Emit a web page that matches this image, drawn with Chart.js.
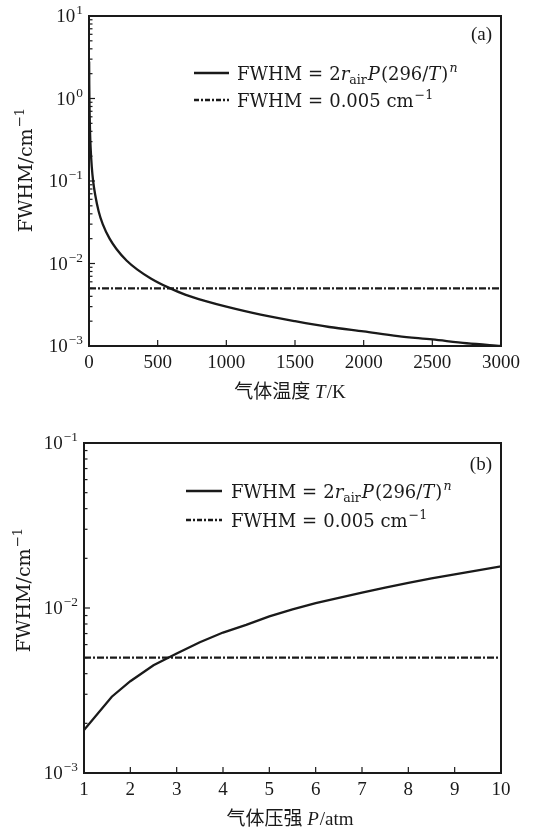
<!DOCTYPE html>
<html>
<head>
<meta charset="utf-8">
<script src="https://cdn.jsdelivr.net/npm/chart.js@4.4.1/dist/chart.umd.min.js"></script>
<style>
body { margin: 0; background: #fff; }
canvas { display: block; }
</style>
</head>
<body>
<canvas id="chartA" width="545" height="415"></canvas>
<canvas id="chartB" width="545" height="415"></canvas>
<script>
// (a) FWHM against gas temperature
const tempK = [1, 2, 3, 5, 8, 12, 20, 30, 45, 70, 100, 150, 200, 275, 350, 450, 580, 700, 850, 1000, 1250, 1500, 1750, 2000, 2250, 2500, 2750, 3000];
const fwhmTemp = [2.8, 1.45, 0.98, 0.6, 0.37, 0.25, 0.15, 0.1, 0.068, 0.043, 0.03, 0.02, 0.015, 0.0108, 0.0085, 0.0066, 0.0051, 0.0042, 0.0035, 0.003, 0.0024, 0.002, 0.0017, 0.0015, 0.00132, 0.0012, 0.00108, 0.001];
const tempTicks = [0, 500, 1000, 1500, 2000, 2500, 3000];

// (b) FWHM against gas pressure
const pressAtm = [1, 1.6, 2, 2.5, 3, 3.5, 4, 4.5, 5, 5.5, 6, 6.5, 7, 7.5, 8, 8.5, 9, 9.5, 10];
const fwhmPress = [0.00182, 0.0029, 0.0036, 0.0045, 0.0053, 0.0062, 0.0071, 0.0079, 0.0089, 0.0098, 0.0107, 0.0115, 0.0124, 0.0133, 0.0142, 0.0151, 0.016, 0.0169, 0.0179];
const pressTicks = [1, 2, 3, 4, 5, 6, 7, 8, 9, 10];

const fwhmConst = 0.005;
const decadesA = [-3, -2, -1, 0, 1];
const decadesB = [-3, -2, -1];

const INK = '#1a1a1a';
const FONT = '"Liberation Serif", "Noto Sans CJK SC"';
const WIDE = '"DejaVu Serif", "Liberation Serif"';

// text with italics, sub- and superscripts
function drawParts(ctx, parts, x, y, base, measureOnly, family) {
    let cx = x;
    parts.forEach(p => {
        const size = (p.sup || p.sub) ? base * 0.7 : base;
        ctx.font = (p.i ? 'italic ' : '') + size + 'px ' + (family || FONT);
        const dy = p.sup ? -base * 0.42 : p.sub ? base * 0.2 : 0;
        cx += p.pre || 0;
        if (!measureOnly) ctx.fillText(p.t, cx, y + dy);
        cx += ctx.measureText(p.t).width + (p.gap || 0);
    });
    return cx - x;
}

const legendSolid = [{t: 'FWHM'}, {t: '=', pre: 6, gap: 6}, {t: '2'}, {t: 'r', i: true}, {t: 'air', sub: true, gap: 1}, {t: 'P', i: true, gap: 1}, {t: '(296/'}, {t: 'T', i: true, gap: 1}, {t: ')'}, {t: 'n', i: true, sup: true, pre: 1}];
const legendDash = [{t: 'FWHM'}, {t: '=', pre: 6, gap: 6}, {t: '0.005 cm'}, {t: '\u22121', sup: true, pre: 1}];
const yTitle = [{t: 'FWHM/cm'}, {t: '\u22121', sup: true, pre: 1}];

const framePlugin = {
    id: 'frame',
    afterDraw(chart, args, o) {
        const ctx = chart.ctx;
        const a = chart.chartArea;
        const xs = chart.scales.x, ys = chart.scales.y;
        ctx.save();
        ctx.strokeStyle = INK;
        ctx.fillStyle = INK;

        // x ticks, inward
        ctx.lineWidth = 1.2;
        o.xTicks.forEach(v => {
            const px = xs.getPixelForValue(v);
            ctx.beginPath();
            ctx.moveTo(px, a.bottom);
            ctx.lineTo(px, a.bottom - 6);
            ctx.stroke();
        });
        // y ticks, major and minor, inward
        o.decades.forEach((e, k) => {
            const last = k === o.decades.length - 1;
            for (let m = 1; m <= (last ? 1 : 9); m++) {
                const py = ys.getPixelForValue(m * Math.pow(10, e));
                ctx.beginPath();
                ctx.moveTo(a.left, py);
                ctx.lineTo(a.left + (m === 1 ? 6 : 3.5), py);
                ctx.stroke();
            }
        });

        // frame
        ctx.lineWidth = 2;
        ctx.strokeRect(a.left, a.top, a.right - a.left, a.bottom - a.top);

        // x tick labels
        ctx.textBaseline = 'alphabetic';
        ctx.textAlign = 'center';
        ctx.font = '19px ' + FONT;
        o.xTicks.forEach(v => {
            ctx.fillText(String(v), xs.getPixelForValue(v), a.bottom + 22);
        });

        // y tick labels 10^e
        ctx.textAlign = 'left';
        o.decades.forEach(e => {
            const py = ys.getPixelForValue(Math.pow(10, e));
            const parts = [{t: '10', gap: 1}, {t: e < 0 ? '\u2212' + (-e) : String(e), sup: true}];
            const w = drawParts(ctx, parts, 0, 0, 19, true);
            drawParts(ctx, parts, a.left - 6 - w, py + 6, 19);
        });

        // x title
        const wx = drawParts(ctx, o.xTitle, 0, 0, 19, true);
        drawParts(ctx, o.xTitle, o.xTitleX - wx / 2, a.bottom + 52, 19);

        // y title, rotated
        ctx.save();
        ctx.translate(o.yTitleX, o.yTitleY);
        ctx.rotate(-Math.PI / 2);
        const wy = drawParts(ctx, yTitle, 0, 0, 19, true, WIDE);
        drawParts(ctx, yTitle, -wy / 2, 6, 19, false, WIDE);
        ctx.restore();

        // legend
        const L = o.legend;
        ctx.lineWidth = 2.4;
        ctx.setLineDash([]);
        ctx.beginPath();
        ctx.moveTo(L.x0, L.y1); ctx.lineTo(L.x1, L.y1);
        ctx.stroke();
        ctx.setLineDash([5, 2, 2, 2]);
        ctx.beginPath();
        ctx.moveTo(L.x0, L.y2); ctx.lineTo(L.x1, L.y2);
        ctx.stroke();
        ctx.setLineDash([]);
        drawParts(ctx, legendSolid, L.tx, L.y1 + 7, 18, false, WIDE);
        drawParts(ctx, legendDash, L.tx, L.y2 + 7, 18, false, WIDE);

        // panel label
        ctx.textAlign = 'right';
        ctx.font = '19px ' + FONT;
        ctx.fillText(o.panel, a.right - 9, o.panelY);
        ctx.restore();
    }
};

function makeChart(id, xs, ys, xTicks, decades, pad, opts, smooth) {
    const xMin = xTicks[0], xMax = xTicks[xTicks.length - 1];
    return new Chart(document.getElementById(id), {
        type: 'line',
        data: {
            datasets: [{
                data: xs.map((x, i) => ({x: x, y: ys[i]})),
                borderColor: INK,
                borderWidth: 2.3,
                pointRadius: 0,
                cubicInterpolationMode: smooth ? 'monotone' : 'default',
                tension: 0
            }, {
                data: [{x: xMin, y: fwhmConst}, {x: xMax, y: fwhmConst}],
                borderColor: INK,
                borderWidth: 2.3,
                borderDash: [7, 2, 2, 2],
                pointRadius: 0
            }]
        },
        options: {
            responsive: false,
            animation: false,
            layout: {padding: pad},
            plugins: {
                legend: {display: false},
                tooltip: {enabled: false},
                frame: Object.assign({xTicks: xTicks, decades: decades}, opts)
            },
            scales: {
                x: {type: 'linear', min: xMin, max: xMax, display: false},
                y: {type: 'logarithmic', min: Math.pow(10, decades[0]), max: Math.pow(10, decades[decades.length - 1]), display: false}
            }
        },
        plugins: [framePlugin]
    });
}

const chartA = makeChart('chartA', tempK, fwhmTemp, tempTicks, decadesA,
    {left: 89, top: 16, right: 44, bottom: 69},
    {
        xTitle: [{t: '\u6c14\u4f53\u6e29\u5ea6 '}, {t: 'T', i: true, gap: 1}, {t: '/K'}],
        xTitleX: 290,
        yTitleX: 26, yTitleY: 170,
        legend: {x0: 194, x1: 229, tx: 237, y1: 73, y2: 100},
        panelY: 40,
        panel: '(a)'
    }, true);

const chartB = makeChart('chartB', pressAtm, fwhmPress, pressTicks, decadesB,
    {left: 84, top: 28, right: 44, bottom: 57},
    {
        xTitle: [{t: '\u6c14\u4f53\u538b\u5f3a '}, {t: 'P', i: true, gap: 1}, {t: '/atm'}],
        xTitleX: 290,
        yTitleX: 24, yTitleY: 175,
        legend: {x0: 186, x1: 222, tx: 231, y1: 76, y2: 105},
        panelY: 55,
        panel: '(b)'
    }, false);
</script>
</body>
</html>
